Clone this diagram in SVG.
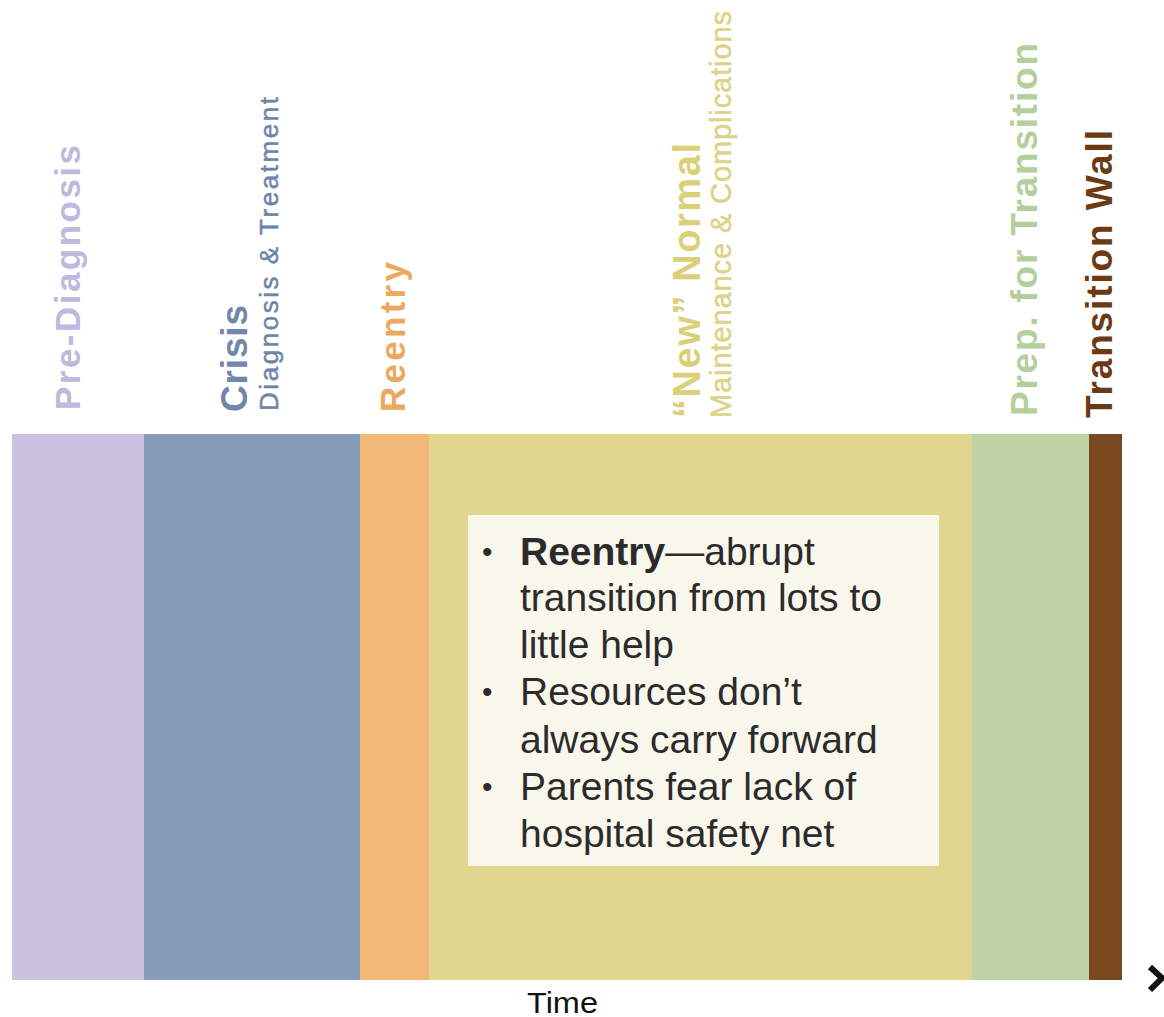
<svg xmlns="http://www.w3.org/2000/svg" width="1164" height="1017" viewBox="0 0 1164 1017">
  <style>
    .lbl { font-family: "Liberation Sans", Arial, sans-serif; font-weight: bold; }
    .sub { font-family: "Liberation Sans", Arial, sans-serif; font-weight: normal; }
    .body { font-family: "Liberation Sans", Arial, sans-serif; font-size: 39px; fill: #2b2b2b; }
    .bul { font-family: "Liberation Sans", Arial, sans-serif; font-size: 30px; fill: #2b2b2b; }
  </style>
  <rect width="1164" height="1017" fill="#ffffff"/>

  <g id="pre-diagnosis">
    <rect x="12" y="434" width="132" height="546" fill="#c9c3e0"/>
    <text class="lbl" transform="translate(80,410) rotate(-90)" font-size="35" fill="#c0b8dd" textLength="265" lengthAdjust="spacing">Pre-Diagnosis</text>
  </g>

  <g id="crisis">
    <rect x="144" y="434" width="216" height="546" fill="#869bb8"/>
    <text class="lbl" transform="translate(247,412) rotate(-90)" font-size="37" fill="#7286aa" textLength="107" lengthAdjust="spacing">Crisis</text>
    <text class="sub" transform="translate(278,411) rotate(-90)" font-size="26" fill="#6f84a8" stroke="#6f84a8" stroke-width="0.5" textLength="314" lengthAdjust="spacing">Diagnosis &amp; Treatment</text>
  </g>

  <g id="reentry">
    <rect x="360" y="434" width="69" height="546" fill="#f2b878"/>
    <text class="lbl" transform="translate(405,412) rotate(-90)" font-size="35" fill="#eda85e" textLength="150" lengthAdjust="spacing">Reentry</text>
  </g>

  <g id="new-normal">
    <rect x="429" y="434" width="543" height="546" fill="#e1d68d"/>
    <text class="lbl" transform="translate(700,418) rotate(-90)" font-size="38" fill="#dbcf78" textLength="275" lengthAdjust="spacing">“New” Normal</text>
    <text class="sub" transform="translate(731,418) rotate(-90)" font-size="29" fill="#ddd386" stroke="#ddd386" stroke-width="0.5" textLength="407" lengthAdjust="spacing">Maintenance &amp; Complications</text>
  </g>

  <g id="prep-for-transition">
    <rect x="972" y="434" width="117" height="546" fill="#c0d3a6"/>
    <text class="lbl" transform="translate(1037,416) rotate(-90)" font-size="37" fill="#b4cf9c" textLength="373" lengthAdjust="spacing">Prep. for Transition</text>
  </g>

  <g id="transition-wall">
    <rect x="1089" y="434" width="33" height="546" fill="#7a481e"/>
    <text class="lbl" transform="translate(1112,418) rotate(-90)" font-size="37" fill="#6b3a14" textLength="288" lengthAdjust="spacing">Transition Wall</text>
  </g>

  <g id="notes">
    <rect x="468" y="515" width="471" height="351" fill="#f9f7eb"/>
    <text class="bul" x="482" y="562">•</text>
    <text class="body" x="520" y="565"><tspan font-weight="bold">Reentry</tspan>—abrupt</text>
    <text class="body" x="520" y="611">transition from lots to</text>
    <text class="body" x="520" y="658">little help</text>
    <text class="bul" x="482" y="702">•</text>
    <text class="body" x="520" y="705">Resources don’t</text>
    <text class="body" x="520" y="753">always carry forward</text>
    <text class="bul" x="482" y="797">•</text>
    <text class="body" x="520" y="800">Parents fear lack of</text>
    <text class="body" x="520" y="847">hospital safety net</text>
  </g>

  <g id="time-axis">
    <text class="sub" x="527" y="1013" font-size="29" fill="#111111" textLength="71" lengthAdjust="spacingAndGlyphs">Time</text>
  </g>

  <g id="connectors">
    <path d="M1150,967 L1162,978 L1150,990" fill="none" stroke="#111111" stroke-width="6"/>
  </g>
</svg>
